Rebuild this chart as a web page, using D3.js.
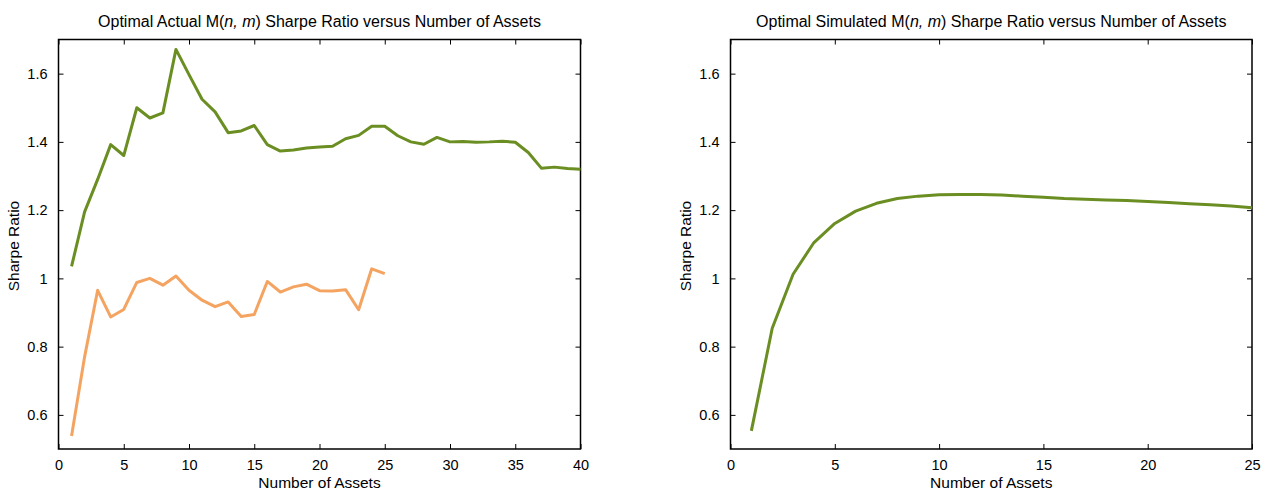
<!DOCTYPE html>
<html>
<head>
<meta charset="utf-8">
<script src="https://cdn.jsdelivr.net/npm/d3@7"></script>
<style>
  body { margin: 0; background: #fff; }
  svg { font-family: "Liberation Sans", Arial, sans-serif; }
</style>
</head>
<body>
<svg id="chart" width="1268" height="492"></svg>
<script>
// actual M(n, m) sharpe ratios, by number of assets
const actual_n = d3.range(1, 41);
const actual_top = [1.035, 1.195, 1.29, 1.392, 1.36, 1.50, 1.47, 1.485, 1.671, 1.597,
  1.525, 1.488, 1.427, 1.432, 1.448, 1.392, 1.373, 1.376, 1.382, 1.385,
  1.387, 1.409, 1.419, 1.446, 1.446, 1.418, 1.40, 1.393, 1.413, 1.40,
  1.401, 1.399, 1.40, 1.402, 1.399, 1.369, 1.323, 1.326, 1.322, 1.320];
const actual_low_n = d3.range(1, 26);
const actual_low = [0.538, 0.77, 0.965, 0.887, 0.909, 0.988, 1.0, 0.98, 1.007, 0.965,
  0.936, 0.917, 0.931, 0.888, 0.894, 0.991, 0.96, 0.975, 0.983, 0.964,
  0.963, 0.967, 0.908, 1.028, 1.014];

// simulated
const sim_n = d3.range(1, 26);
const sim_vals = [0.553, 0.854, 1.012, 1.105, 1.161, 1.197, 1.22, 1.234, 1.241, 1.245,
  1.246, 1.246, 1.244, 1.241, 1.238, 1.234, 1.232, 1.230, 1.228, 1.225,
  1.222, 1.219, 1.216, 1.212, 1.207];

const y_ticks = [0.6, 0.8, 1.0, 1.2, 1.4, 1.6];
const green = '#6b8e23';
const orange = '#f4a460';

let svg = d3.select('#chart');

function fmt(v) {
  return (Math.abs(v - Math.round(v)) < 1e-9) ? String(Math.round(v)) : v.toFixed(1);
}

function draw_panel(param) {
  let x = d3.scaleLinear().domain(param.x_domain).range([param.left, param.right]);
  let y = d3.scaleLinear().domain([0.5, 1.7]).range([449, 39.5]);
  let g = svg.append('g');

  // ticks on all four sides, pointing inward
  g.append('g')
    .attr('transform', 'translate(0,449)')
    .call(d3.axisBottom(x).tickValues(param.x_ticks).tickSizeInner(-5).tickSizeOuter(0).tickPadding(11).tickFormat(fmt));
  g.append('g')
    .attr('transform', 'translate(0,39.5)')
    .call(d3.axisTop(x).tickValues(param.x_ticks).tickSizeInner(-5).tickSizeOuter(0).tickFormat(''));
  g.append('g')
    .attr('transform', 'translate(' + param.left + ',0)')
    .call(d3.axisLeft(y).tickValues(y_ticks).tickSizeInner(-5).tickSizeOuter(0).tickPadding(11).tickFormat(fmt));
  g.append('g')
    .attr('transform', 'translate(' + param.right + ',0)')
    .call(d3.axisRight(y).tickValues(y_ticks).tickSizeInner(-5).tickSizeOuter(0).tickFormat(''));

  g.selectAll('.domain').remove();
  g.selectAll('.tick line').attr('stroke', '#000');
  g.selectAll('.tick text').style('font-size', '14.5px').attr('fill', '#000');

  g.append('rect')
    .attr('x', param.left).attr('y', 39.5)
    .attr('width', param.right - param.left).attr('height', 449 - 39.5)
    .style('fill', 'none').style('stroke', '#000').style('stroke-width', 1.5);

  let line = d3.line().x(d => x(d[0])).y(d => y(d[1]));
  param.series.forEach(s => {
    g.append('path')
      .datum(d3.zip(s.n, s.v))
      .attr('d', line)
      .style('fill', 'none')
      .style('stroke', s.color)
      .style('stroke-width', 3)
      .style('stroke-linejoin', 'round');
  });

  let cx = (param.left + param.right) / 2;
  let title = g.append('text')
    .attr('x', cx).attr('y', 27)
    .attr('text-anchor', 'middle')
    .style('font-size', '16px');
  title.append('tspan').text(param.title_a + ' M(');
  title.append('tspan').style('font-style', 'italic').text('n, m');
  title.append('tspan').text(') Sharpe Ratio versus Number of Assets');

  g.append('text')
    .attr('x', cx).attr('y', 488)
    .attr('text-anchor', 'middle')
    .style('font-size', '15.5px')
    .text('Number of Assets');

  g.append('text')
    .attr('transform', 'translate(' + (param.left - 40) + ',246) rotate(-90)')
    .attr('text-anchor', 'middle')
    .style('font-size', '15.5px')
    .text('Sharpe Ratio');
}

draw_panel({
  left: 58.5, right: 580.5,
  x_domain: [0, 40],
  x_ticks: [0, 5, 10, 15, 20, 25, 30, 35, 40],
  title_a: 'Optimal Actual',
  series: [
    { n: actual_n, v: actual_top, color: green },
    { n: actual_low_n, v: actual_low, color: orange },
  ],
});

draw_panel({
  left: 730.5, right: 1252,
  x_domain: [0, 25],
  x_ticks: [0, 5, 10, 15, 20, 25],
  title_a: 'Optimal Simulated',
  series: [
    { n: sim_n, v: sim_vals, color: green },
  ],
});
</script>
</body>
</html>
